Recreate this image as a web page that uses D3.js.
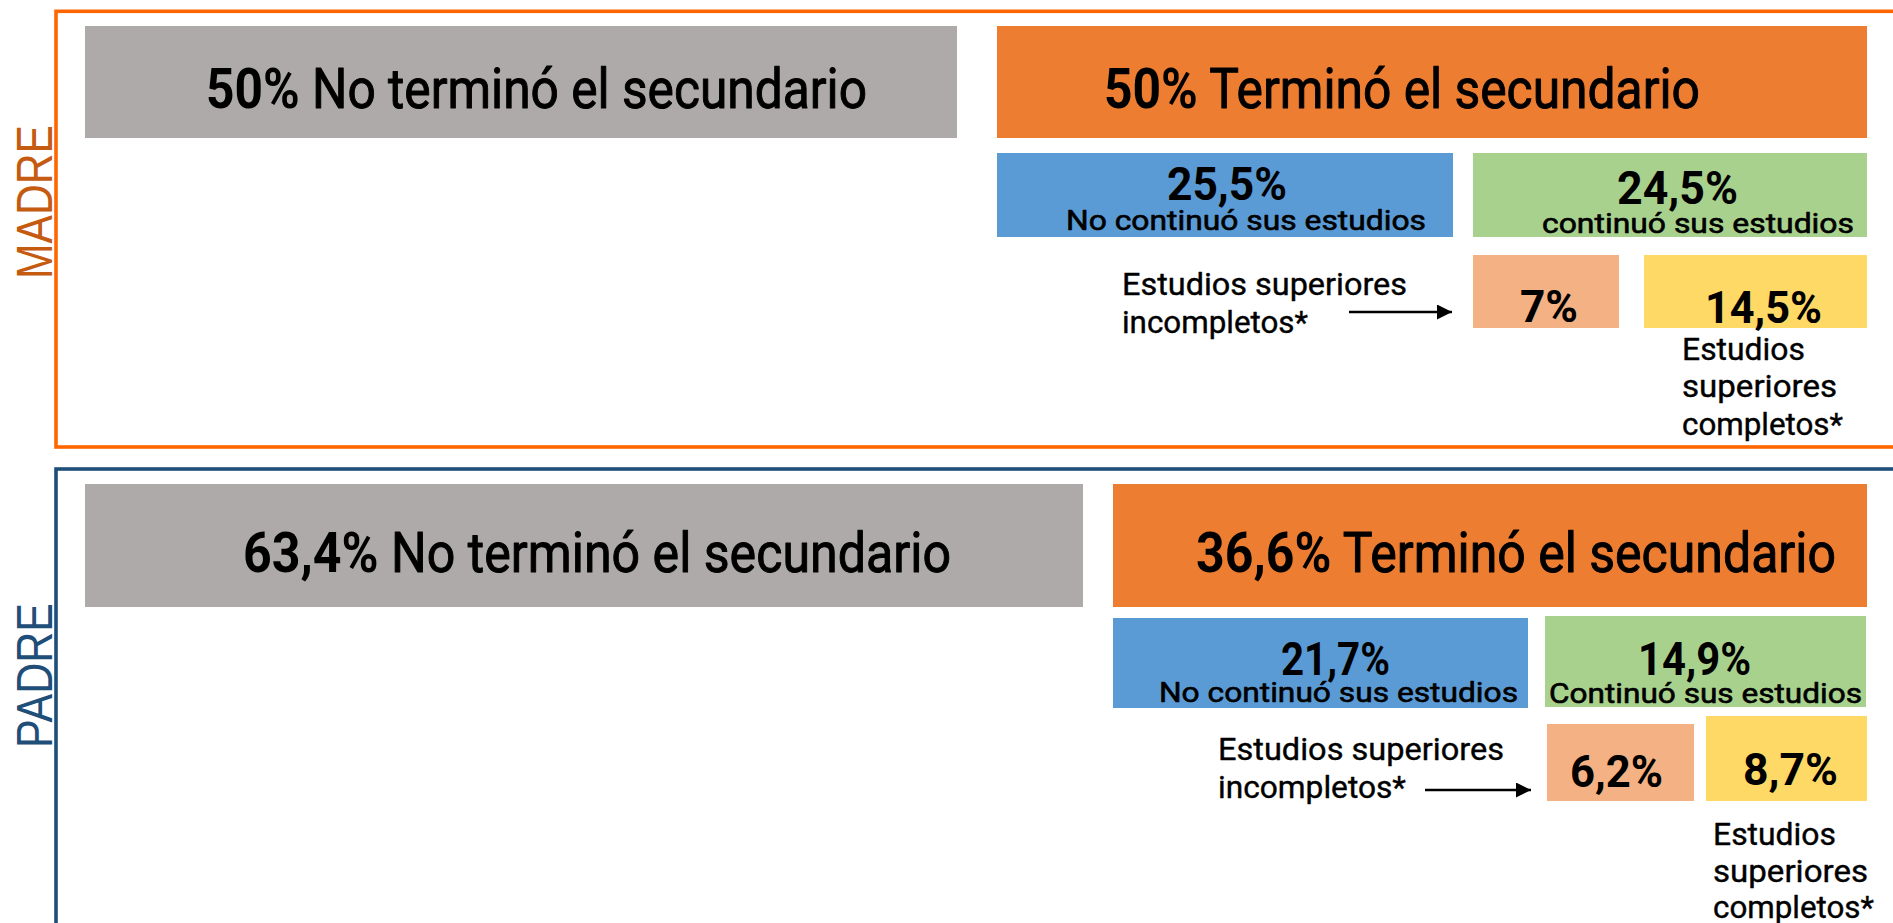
<!DOCTYPE html>
<html>
<head>
<meta charset="utf-8">
<script src="https://cdn.jsdelivr.net/npm/d3@7"></script>
<style>
  html, body { margin: 0; padding: 0; background: #ffffff; }
  svg { display: block; }
</style>
</head>
<body>
<div id="chart"></div>
<script>
// ---------------- DATA ----------------
const groups = ["MADRE", "PADRE"];
const noTerminoPct = [50, 63.4];
const terminoPct = [50, 36.6];
const noTerminoLabel = "No terminó el secundario";
const terminoLabel = "Terminó el secundario";
const noContinuoPct = [25.5, 21.7];
const continuoPct = [24.5, 14.9];
const noContinuoLabels = ["No continuó sus estudios", "No continuó sus estudios"];
const continuoLabels = ["continuó sus estudios", "Continuó sus estudios"];
const incompletosPct = [7, 6.2];
const completosPct = [14.5, 8.7];
const incompletosLines = ["Estudios superiores", "incompletos*"];
const completosLines = ["Estudios", "superiores", "completos*"];

// ---------------- LAYOUT (positions / sizes, kept apart from data) ----------------
const W = 1893, H = 923;
const layout = [
  { // MADRE
    panel: { x: 56, y: 11.3, bottom: 447, stroke: "#FF6600", label: "#C55A11", labelY: 279, labelLen: 154 },
    top: { y0: 26, y1: 138, gray: [85, 957], orange: [997, 1867], base: 108,
           leftText: { x: 206, w: 661 }, rightText: { x: 1104, w: 596 } },
    mid: { blue: [997, 1453, 153, 237], green: [1473, 1867, 153, 237],
           bluePct: { x: 1167, base: 200, w: 120 }, greenPct: { x: 1617, base: 204, w: 121 },
           blueLbl: { x: 1066, base: 230, w: 360 }, greenLbl: { x: 1542, base: 232.5, w: 312 } },
    low: { salmon: [1473, 1619, 255, 328], yellow: [1644, 1867, 255, 328],
           salmonPct: { x: 1520, base: 322, w: 58 }, yellowPct: { x: 1705, base: 323, w: 117 },
           inc: { x: 1122, base: [295, 333], w: [285, 186] },
           arrow: { x0: 1349, x1: 1452, y: 312 },
           comp: { x: 1682, base: [360, 397, 435], w: [123, 155, 161] } }
  },
  { // PADRE
    panel: { x: 56, y: 469, bottom: 1100, stroke: "#1F4E79", label: "#1F4E79", labelY: 748, labelLen: 145 },
    top: { y0: 484, y1: 607, gray: [85, 1083], orange: [1113, 1867], base: 572,
           leftText: { x: 243, w: 708 }, rightText: { x: 1196, w: 640 } },
    mid: { blue: [1113, 1528, 618, 708], green: [1545, 1866, 616, 707],
           bluePct: { x: 1281, base: 675, w: 109 }, greenPct: { x: 1638, base: 675, w: 113 },
           blueLbl: { x: 1159, base: 702, w: 359 }, greenLbl: { x: 1549, base: 703, w: 313 } },
    low: { salmon: [1547, 1694, 724, 801], yellow: [1706, 1867, 716, 801],
           salmonPct: { x: 1570, base: 787, w: 93 }, yellowPct: { x: 1743, base: 785, w: 95 },
           inc: { x: 1218, base: [760, 798], w: [286, 188] },
           arrow: { x0: 1425, x1: 1531, y: 790 },
           comp: { x: 1713, base: [845, 882, 918], w: [123, 155, 161] } }
  }
];

const color = d3.scaleOrdinal()
  .domain(["noTermino", "termino", "noContinuo", "continuo", "incompletos", "completos"])
  .range(["#AEAAAA", "#ED7D31", "#5B9BD5", "#A9D18E", "#F4B183", "#FFD966"]);

const x = d3.scaleIdentity().domain([0, W]);
const y = d3.scaleIdentity().domain([0, H]);

const locale = d3.formatLocale({ decimal: ",", thousands: ".", grouping: [3], currency: ["", "%"] });
const fmtNum = locale.format(".1~f");
const pct = v => fmtNum(v) + "%";

const FONT = "Roboto, 'DejaVu Sans', sans-serif";

const svg = d3.select("#chart").append("svg")
  .attr("width", W).attr("height", H)
  .attr("viewBox", `0 0 ${W} ${H}`);

// arrow marker
svg.append("defs").append("marker")
  .attr("id", "arrowhead")
  .attr("viewBox", "0 0 10 10")
  .attr("refX", 10).attr("refY", 5)
  .attr("markerWidth", 15).attr("markerHeight", 15)
  .attr("markerUnits", "userSpaceOnUse")
  .attr("orient", "auto")
  .append("path").attr("d", "M0,0 L10,5 L0,10 Z").attr("fill", "#000");

// build marks from data + layout
// each part: [text, weight, faux-bold stroke width]
const boxes = [];
const texts = [];
groups.forEach((g, i) => {
  const L = layout[i];
  boxes.push({ key: "noTermino", x0: L.top.gray[0], x1: L.top.gray[1], y0: L.top.y0, y1: L.top.y1 });
  boxes.push({ key: "termino", x0: L.top.orange[0], x1: L.top.orange[1], y0: L.top.y0, y1: L.top.y1 });
  boxes.push({ key: "noContinuo", x0: L.mid.blue[0], x1: L.mid.blue[1], y0: L.mid.blue[2], y1: L.mid.blue[3] });
  boxes.push({ key: "continuo", x0: L.mid.green[0], x1: L.mid.green[1], y0: L.mid.green[2], y1: L.mid.green[3] });
  boxes.push({ key: "incompletos", x0: L.low.salmon[0], x1: L.low.salmon[1], y0: L.low.salmon[2], y1: L.low.salmon[3] });
  boxes.push({ key: "completos", x0: L.low.yellow[0], x1: L.low.yellow[1], y0: L.low.yellow[2], y1: L.low.yellow[3] });

  texts.push({ parts: [[pct(noTerminoPct[i]), 700, 0], [" " + noTerminoLabel, 400, 1.0]], x: L.top.leftText.x, y: L.top.base, w: L.top.leftText.w, size: 56 });
  texts.push({ parts: [[pct(terminoPct[i]), 700, 0], [" " + terminoLabel, 400, 1.0]], x: L.top.rightText.x, y: L.top.base, w: L.top.rightText.w, size: 56 });
  texts.push({ parts: [[pct(noContinuoPct[i]), 700, 0]], x: L.mid.bluePct.x, y: L.mid.bluePct.base, w: L.mid.bluePct.w, size: 47 });
  texts.push({ parts: [[pct(continuoPct[i]), 700, 0]], x: L.mid.greenPct.x, y: L.mid.greenPct.base, w: L.mid.greenPct.w, size: 47 });
  texts.push({ parts: [[noContinuoLabels[i], 400, 0.6]], x: L.mid.blueLbl.x, y: L.mid.blueLbl.base, w: L.mid.blueLbl.w, size: 27.5 });
  texts.push({ parts: [[continuoLabels[i], 400, 0.6]], x: L.mid.greenLbl.x, y: L.mid.greenLbl.base, w: L.mid.greenLbl.w, size: 27.5 });
  texts.push({ parts: [[pct(incompletosPct[i]), 700, 0]], x: L.low.salmonPct.x, y: L.low.salmonPct.base, w: L.low.salmonPct.w, size: 45 });
  texts.push({ parts: [[pct(completosPct[i]), 700, 0]], x: L.low.yellowPct.x, y: L.low.yellowPct.base, w: L.low.yellowPct.w, size: 45 });
  incompletosLines.forEach((t, k) => texts.push({ parts: [[t, 400, 0.4]], x: L.low.inc.x, y: L.low.inc.base[k], w: L.low.inc.w[k], size: 31 }));
  completosLines.forEach((t, k) => texts.push({ parts: [[t, 400, 0.4]], x: L.low.comp.x, y: L.low.comp.base[k], w: L.low.comp.w[k], size: 31 }));
});

// panels
const panels = svg.selectAll("g.panel").data(groups).join("g").attr("class", "panel");
panels.append("rect")
  .attr("x", (d, i) => x(layout[i].panel.x))
  .attr("y", (d, i) => y(layout[i].panel.y))
  .attr("width", (d, i) => x(W + 100) - x(layout[i].panel.x))
  .attr("height", (d, i) => y(layout[i].panel.bottom) - y(layout[i].panel.y))
  .attr("fill", "none")
  .attr("stroke", (d, i) => layout[i].panel.stroke)
  .attr("stroke-width", 3.6);

panels.append("text")
  .attr("transform", (d, i) => `translate(${x(52)},${y(layout[i].panel.labelY)}) rotate(-90)`)
  .attr("font-family", "'Liberation Sans', Arial, sans-serif")
  .attr("font-size", 50)
  .attr("textLength", (d, i) => layout[i].panel.labelLen)
  .attr("lengthAdjust", "spacingAndGlyphs")
  .attr("fill", (d, i) => layout[i].panel.label)
  .text(d => d);

// boxes
svg.selectAll("rect.box").data(boxes).join("rect")
  .attr("class", "box")
  .attr("x", d => x(d.x0)).attr("y", d => y(d.y0))
  .attr("width", d => x(d.x1) - x(d.x0))
  .attr("height", d => y(d.y1) - y(d.y0))
  .attr("fill", d => color(d.key));

// arrows
svg.selectAll("line.arrow").data(layout).join("line")
  .attr("class", "arrow")
  .attr("x1", d => x(d.low.arrow.x0)).attr("x2", d => x(d.low.arrow.x1))
  .attr("y1", d => y(d.low.arrow.y)).attr("y2", d => y(d.low.arrow.y))
  .attr("stroke", "#000").attr("stroke-width", 2.4)
  .attr("marker-end", "url(#arrowhead)");

// texts
const tx = svg.selectAll("text.lbl").data(texts).join("text")
  .attr("class", "lbl")
  .attr("x", d => x(d.x)).attr("y", d => y(d.y))
  .attr("font-family", FONT)
  .attr("font-size", d => d.size)
  .attr("fill", "#000")
  .attr("textLength", d => d.w)
  .attr("lengthAdjust", "spacingAndGlyphs")
  .style("white-space", "pre");
tx.selectAll("tspan").data(d => d.parts).join("tspan")
  .attr("font-weight", p => p[1])
  .attr("stroke", p => p[2] > 0 ? "#000" : "none")
  .attr("stroke-width", p => p[2])
  .attr("stroke-linejoin", "round")
  .text(p => p[0]);
</script>
</body>
</html>
